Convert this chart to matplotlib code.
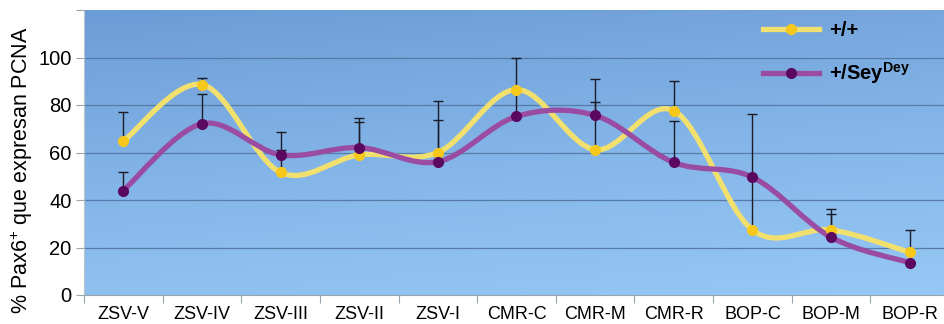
import numpy as np
import matplotlib
matplotlib.use("Agg")
import matplotlib.pyplot as plt
from matplotlib.path import Path
from matplotlib.patches import PathPatch
from matplotlib.lines import Line2D
from matplotlib.colors import LinearSegmentedColormap

plt.rcParams['font.family'] = ['Liberation Sans', 'DejaVu Sans']
plt.rcParams['mathtext.default'] = 'regular'

categories = ["ZSV-V", "ZSV-IV", "ZSV-III", "ZSV-II", "ZSV-I", "CMR-C",
              "CMR-M", "CMR-R", "BOP-C", "BOP-M", "BOP-R"]
wt_values = [64.7, 88.6, 51.6, 59.0, 60.0, 86.5, 61.2, 77.6, 27.4, 27.4, 18.0]
wt_err = [12.2, 2.8, 9.3, 13.7, 21.8, 13.5, 19.9, 12.4, 48.9, 6.6, 9.4]
sey_values = [44.0, 72.1, 59.0, 62.1, 56.1, 75.2, 75.6, 55.8, 49.6, 24.3, 13.6]
sey_err = [8.0, 12.5, 9.6, 12.4, 17.7, 11.0, 15.4, 17.6, 0.0, 12.0, 0.0]
series_labels = ["+/+", "+/Sey$^{Dey}$"]
yticks = [0, 20, 40, 60, 80, 100]

W, H = 945, 324
fig = plt.figure(figsize=(W / 100, H / 100), dpi=100)
left, right, top, bottom = 84, 949, 10, 295
ax = fig.add_axes([left / W, 1 - bottom / H, (right - left) / W, (bottom - top) / H])

n = len(categories)
x = np.arange(n)
ax.set_xlim(-0.5, n - 0.5)
ax.set_ylim(0, 120)

# background gradient (darker at top-left, lighter at bottom-right)
gx, gy = np.meshgrid(np.linspace(0, 1, 200), np.linspace(0, 1, 200))
t = 0.8 * gy + 0.2 * gx  # row 0 at top with origin='upper'
cmap = LinearSegmentedColormap.from_list("bg", ["#6c9cd5", "#84b5e8", "#96c8f5"])
ax.imshow(t, cmap=cmap, extent=[0, 1, 0, 1], transform=ax.transAxes,
          aspect='auto', origin='upper', zorder=0, vmin=0, vmax=1)

for yv in yticks[1:]:
    ax.axhline(yv, color="#557ba6", lw=0.9, zorder=1)


def smooth_path(xs, ys):
    pts = np.column_stack([xs, ys]).astype(float)
    m = len(pts)
    verts = [pts[0]]
    codes = [Path.MOVETO]
    for i in range(m - 1):
        p0 = pts[max(i - 1, 0)]
        p1 = pts[i]
        p2 = pts[i + 1]
        p3 = pts[min(i + 2, m - 1)]
        c1 = p1 + (p2 - p0) / 6.0
        c2 = p2 - (p3 - p1) / 6.0
        verts += [c1, c2, p2]
        codes += [Path.CURVE4] * 3
    return Path(verts, codes)


line_cols = ["#f1e06e", "#9a4ca3"]
mark_cols = ["#f6c81c", "#5a0860"]
vals = [wt_values, sey_values]
errs = [wt_err, sey_err]

for k in range(2):
    ax.add_patch(PathPatch(smooth_path(x, vals[k]), fill=False, edgecolor=line_cols[k],
                           lw=3.8, capstyle='round', joinstyle='round', zorder=3 + k))
for k in range(2):
    ax.errorbar(x, vals[k], yerr=[np.zeros(n), errs[k]], fmt='none', ecolor="#1c1c28",
                elinewidth=1.0, capsize=3.6, capthick=1.0, zorder=6)
for k in range(2):
    ax.plot(x, vals[k], 'o', color=mark_cols[k], ms=7, mec=mark_cols[k], zorder=7 + k)

# axes styling
for s in ["top", "right"]:
    ax.spines[s].set_visible(False)
ax.spines["left"].set_color("#b8c4d0")
ax.spines["bottom"].set_color("#9aa4ae")
ax.spines["left"].set_zorder(2)

ax.set_yticks(yticks + [120])
ax.set_yticklabels([str(v) for v in yticks] + [""], fontsize=14.5)
ax.tick_params(axis='y', length=6, width=0.8, color="#9aa4ae", pad=3)

ax.set_xticks(np.arange(n + 1) - 0.5)
ax.set_xticklabels([])
ax.tick_params(axis='x', which='major', length=6, width=0.8, color="#9aa4ae")
ax.set_xticks(x, minor=True)
ax.set_xticklabels(categories, minor=True, fontsize=13)
ax.tick_params(axis='x', which='minor', length=0, pad=8)

fig.text(22 / W, 1 - 170 / H, "% Pax6$^{+}$ que expresan PCNA", rotation=90,
         ha='center', va='center', fontsize=15.5)

handles = [Line2D([], [], color=line_cols[k], lw=3.8, marker='o', ms=7,
                  mfc=mark_cols[k], mec=mark_cols[k]) for k in range(2)]
ax.legend(handles, series_labels, loc='upper left', bbox_to_anchor=(0.785, 0.962),
          frameon=False, handlelength=2.8, handletextpad=0.5, labelspacing=1.0,
          borderpad=0, borderaxespad=0, prop={'size': 14.5, 'weight': 'bold'})

fig.savefig("out.png", dpi=100)
